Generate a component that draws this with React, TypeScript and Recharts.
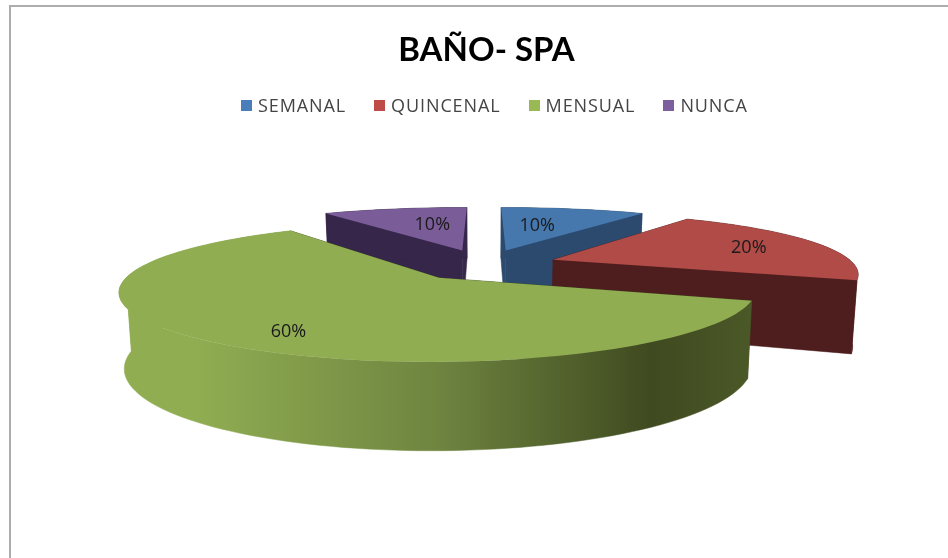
import { PieChart, Pie, Legend } from 'recharts'

const CATEGORIES = ['SEMANAL', 'QUINCENAL', 'MENSUAL', 'NUNCA']
const VALUES = [10, 20, 60, 10]
const TOP_COLORS = ['#4678ae', '#b04b48', '#90ad52', '#7a5c98']
const WALL_COLORS = ['#2c4a6e', '#4e1e1e', 'url(#greenWall)', '#35264a']
const LEGEND_COLORS = ['#4a7ebb', '#be4b48', '#98b954', '#7d5fa0']
const LABEL_RADIUS = [0.55, 0.74, 0.775, 0.57]
const LABEL_TURN = [-4, 0, -4, 5]
// painted back to front, so the big green slice ends up on top
const DRAW_ORDER = [3, 0, 1, 2]

const tableData = DRAW_ORDER.map((i) => ({
  name: CATEGORIES[i],
  value: VALUES[i],
  top: TOP_COLORS[i],
  wall: WALL_COLORS[i],
  labelRadius: LABEL_RADIUS[i],
  labelTurn: LABEL_TURN[i],
}))

// fake 3D projection of the pie plane
const CX = 484
const CY = 264.5
const RX = 301
const RY = 64
const PERSPECTIVE_X = 0.2
const PERSPECTIVE_Y = 0.225
const DEPTH = 70
const EXPLODE = 0.245

const rad = (d: number) => (d * Math.PI) / 180

function project(u: number, v: number) {
  const s = 1 + PERSPECTIVE_Y * v
  return { x: CX + RX * u * (1 + PERSPECTIVE_X * v), y: CY + RY * v * s, s }
}

function lower(p: { x: number; y: number; s: number }) {
  return { x: CX + (p.x - CX) * 0.985, y: p.y + DEPTH * p.s, s: p.s }
}

// clock angle: 0 at the top, growing clockwise
function planePoint(mid: number, angle: number, r: number) {
  return project(
    EXPLODE * Math.sin(rad(mid)) + r * Math.sin(rad(angle)),
    -EXPLODE * Math.cos(rad(mid)) - r * Math.cos(rad(angle))
  )
}

const toPath = (pts: { x: number; y: number }[]) =>
  pts.map((p, i) => `${i ? 'L' : 'M'}${p.x.toFixed(1)},${p.y.toFixed(1)}`).join(' ') + ' Z'

function arcPoints(mid: number, from: number, to: number) {
  const pts = []
  for (let a = from; a < to; a += 2) pts.push(planePoint(mid, a, 1))
  pts.push(planePoint(mid, to, 1))
  return pts
}

function Slice3D(props: any) {
  const from = 90 - props.startAngle
  const to = 90 - props.endAngle
  const mid = (from + to) / 2
  const arc = arcPoints(mid, from, to)
  const apex = planePoint(mid, 0, 0)
  // the wall folds where the rim turns back, so split it there or the overlap cancels out
  const cuts = [from, ...[90, 270].filter((c) => c > from && c < to), to]
  const walls = cuts.slice(1).map((end, i) => {
    const seg = arcPoints(mid, cuts[i], end)
    return [...seg, ...seg.map(lower).reverse()]
  })
  const faceA = [apex, arc[0], lower(arc[0]), lower(apex)]
  const faceB = [apex, arc[arc.length - 1], lower(arc[arc.length - 1]), lower(apex)]
  const { top, wall: wallFill } = props.payload
  const faceFill = wallFill.startsWith('url') ? '#3f4a20' : wallFill
  return (
    <g>
      <defs>
        <linearGradient id="greenWall" gradientUnits="userSpaceOnUse" x1="120" x2="752" y1="0" y2="0">
          <stop offset="0" stopColor="#90ad52" />
          <stop offset="0.12" stopColor="#90ad52" />
          <stop offset="0.5" stopColor="#6f8540" />
          <stop offset="0.84" stopColor="#3f4a20" />
          <stop offset="1" stopColor="#4b5827" />
        </linearGradient>
      </defs>
      <path d={toPath(faceA)} fill={faceFill} stroke={faceFill} strokeWidth={0.5} />
      <path d={toPath(faceB)} fill={faceFill} stroke={faceFill} strokeWidth={0.5} />
      {walls.map((w, i) => (
        <path key={i} d={toPath(w)} fill={wallFill} stroke={wallFill} strokeWidth={0.5} />
      ))}
      <path d={toPath([apex, ...arc])} fill={top} />
    </g>
  )
}

function SliceLabel(props: any) {
  const clock = 90 - props.midAngle
  const p = planePoint(clock, clock + props.payload.labelTurn, props.payload.labelRadius)
  return (
    <text x={p.x} y={p.y} textAnchor="middle" dominantBaseline="central" fontSize={18} fill="#1a1a1a" fontFamily="'Open Sans', sans-serif">
      {`${Math.round(props.percent * 100)}%`}
    </text>
  )
}

function LegendRow() {
  return (
    <div style={{ display: 'flex', gap: 28, fontFamily: "'Open Sans', sans-serif", fontSize: 18, color: '#444', letterSpacing: 0.9 }}>
      {CATEGORIES.map((name, i) => (
        <span key={name} style={{ display: 'flex', alignItems: 'center', gap: 6 }}>
          <span style={{ width: 11, height: 11, background: LEGEND_COLORS[i], display: 'inline-block' }} />
          {name}
        </span>
      ))}
    </div>
  )
}

export default function App() {
  return (
    <div style={{ position: 'fixed', left: 0, top: 0, width: 948, height: 558, background: '#fff', overflow: 'hidden', filter: 'blur(0.5px)' }}>
      <div style={{ position: 'absolute', left: 9, top: 5, right: 0, bottom: 0, borderTop: '2px solid #adadad', borderLeft: '2px solid #adadad' }} />
      <div style={{ position: 'absolute', left: 0, width: 973, top: 26, textAlign: 'center', fontFamily: 'Lato, sans-serif', fontWeight: 700, fontSize: 33, lineHeight: '44px', color: '#000' }}>
        BAÑO- SPA
      </div>
      <PieChart width={948} height={558} margin={{ top: 0, right: 0, bottom: 0, left: 0 }} style={{ position: 'absolute', left: 0, top: 0 }}>
        <Legend content={<LegendRow />} layout="horizontal" align="left" verticalAlign="top" wrapperStyle={{ left: 241, top: 93, width: 600 }} />
        <Pie
          data={tableData}
          dataKey="value"
          nameKey="name"
          cx={CX}
          cy={CY}
          outerRadius={RX}
          startAngle={126}
          endAngle={-234}
          stroke="none"
          shape={Slice3D}
          label={SliceLabel}
          labelLine={false}
          isAnimationActive={false}
        />
      </PieChart>
    </div>
  )
}
